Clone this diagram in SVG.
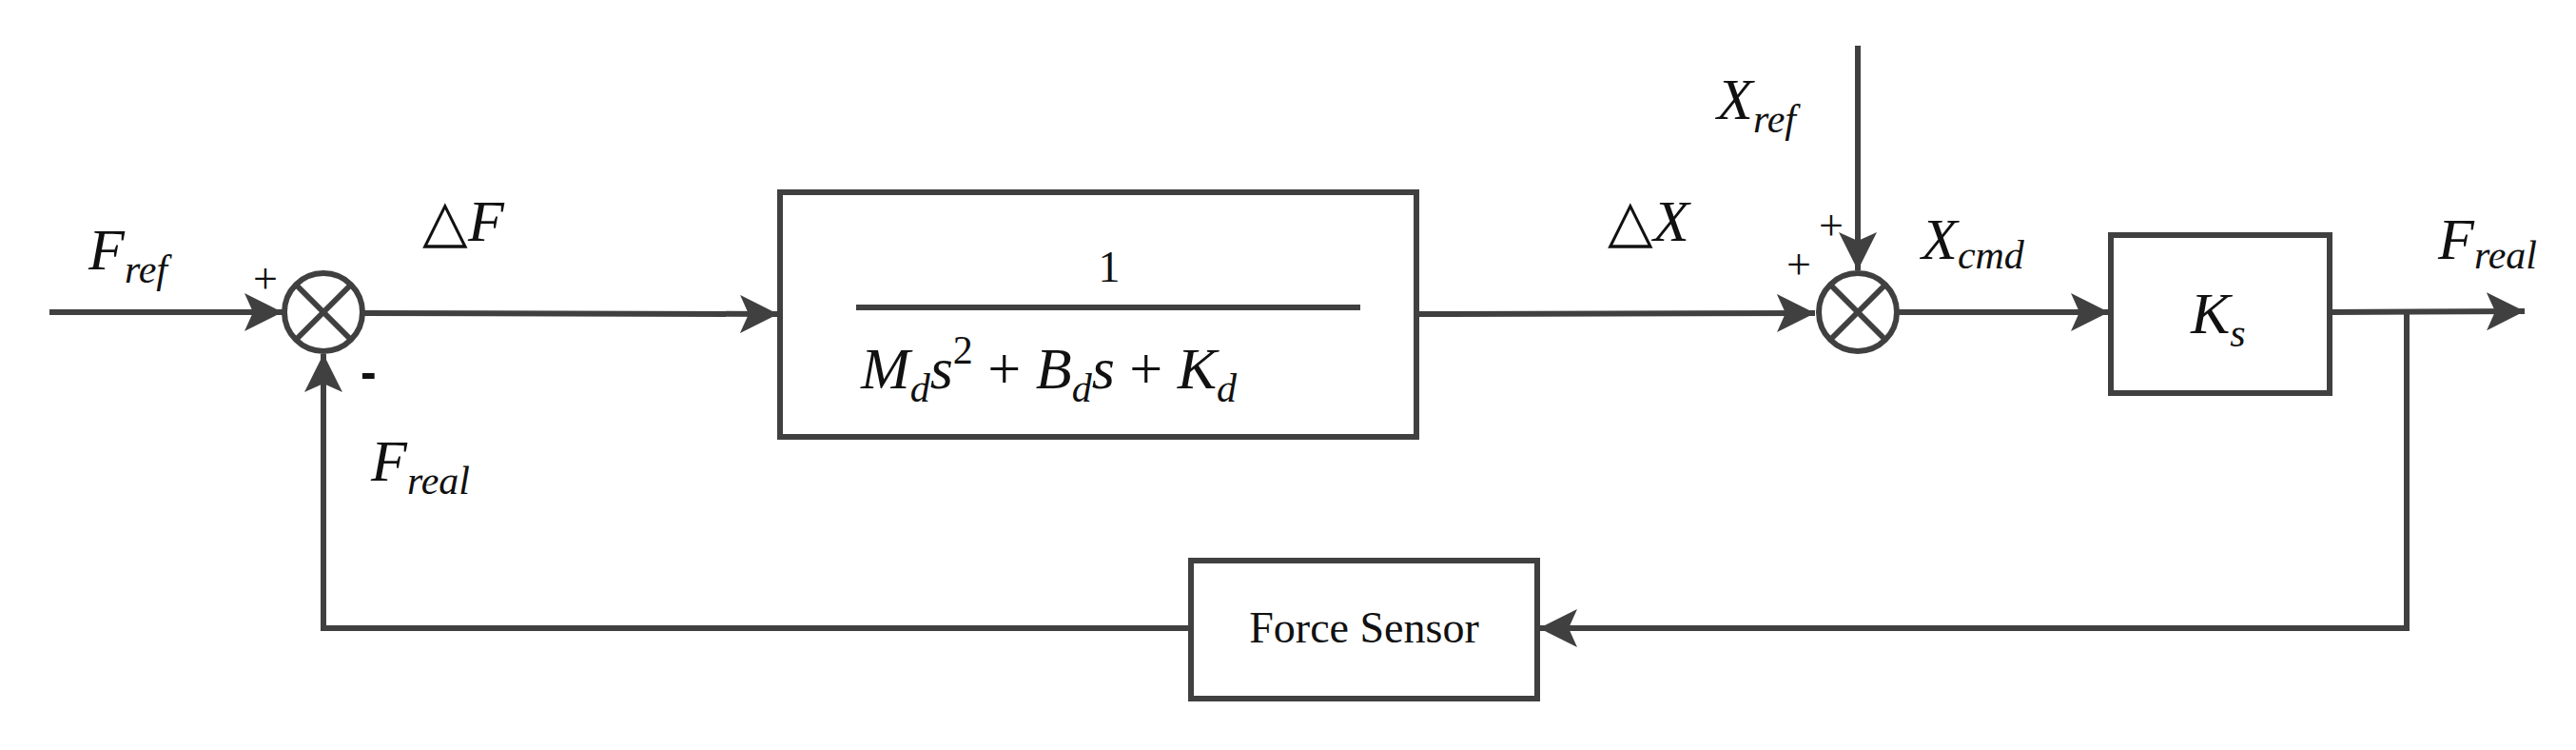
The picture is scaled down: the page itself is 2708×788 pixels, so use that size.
<svg xmlns="http://www.w3.org/2000/svg" width="2708" height="788" viewBox="0 0 2708 788">
<style>
.ln{stroke:#404040;stroke-width:6;fill:none}
.bx{stroke:#404040;stroke-width:6;fill:#fff}
.m{font-family:"Liberation Serif",serif;font-style:italic;font-size:62px;fill:#111}
.s{font-size:42px}
.n{font-family:"Liberation Serif",serif;font-size:46px;fill:#111}
</style>
<defs>
<marker id="a" markerUnits="userSpaceOnUse" markerWidth="42" markerHeight="42" refX="40" refY="20" orient="auto" viewBox="0 0 42 42">
<path d="M0,0 L40,20 L0,40 L9,20 Z" fill="#404040"/>
</marker>
</defs>
<g id="connectors">
<line class="ln" x1="52" y1="328" x2="297" y2="328" marker-end="url(#a)"/>
<line class="ln" x1="382" y1="329" x2="818" y2="330" marker-end="url(#a)"/>
<line class="ln" x1="1489" y1="330" x2="1908" y2="329" marker-end="url(#a)"/>
<line class="ln" x1="1953" y1="48" x2="1953" y2="284" marker-end="url(#a)"/>
<line class="ln" x1="1994" y1="328" x2="2217" y2="328" marker-end="url(#a)"/>
<line class="ln" x1="2449" y1="328" x2="2654" y2="327" marker-end="url(#a)"/>
<polyline class="ln" points="2530,328 2530,660 1618,660" marker-end="url(#a)"/>
<polyline class="ln" points="1252,660 340,660 340,372" marker-end="url(#a)"/>
</g>
<g id="sum1">
<circle class="bx" cx="340" cy="328" r="41"/>
<line class="ln" x1="311" y1="299" x2="369" y2="357"/>
<line class="ln" x1="369" y1="299" x2="311" y2="357"/>
</g>
<g id="sum2">
<circle class="bx" cx="1953" cy="328" r="41"/>
<line class="ln" x1="1924" y1="299" x2="1982" y2="357"/>
<line class="ln" x1="1982" y1="299" x2="1924" y2="357"/>
</g>
<g id="impedance">
<rect class="bx" x="820" y="202" width="669" height="257"/>
<text class="n" x="1166" y="296" text-anchor="middle" font-size="58">1</text>
<line class="ln" x1="900" y1="323" x2="1430" y2="323" stroke-width="3"/>
<text class="m" x="905" y="408">M<tspan class="s" dy="14">d</tspan><tspan dy="-14">s</tspan><tspan class="s" font-style="normal" dy="-26">2</tspan><tspan font-style="normal" dy="26"> + </tspan>B<tspan class="s" dy="14">d</tspan><tspan dy="-14">s</tspan><tspan font-style="normal"> + </tspan>K<tspan class="s" dy="14">d</tspan></text>
</g>
<g id="ks">
<rect class="bx" x="2219" y="247" width="230" height="166"/>
<text class="m" x="2303" y="350">K<tspan class="s" dy="14">s</tspan></text>
</g>
<g id="sensor">
<rect class="bx" x="1252" y="589" width="364" height="145"/>
<text class="n" x="1434" y="675" text-anchor="middle" font-size="40">Force Sensor</text>
</g>
<g id="labels">
<text class="m" x="93" y="283">F<tspan class="s" dy="14">ref</tspan></text>
<text class="n" x="266" y="308" font-size="44">+</text>
<text x="379" y="408" font-family="Liberation Sans,sans-serif" font-weight="bold" font-size="50" fill="#111">-</text>
<text class="m" x="444" y="253"><tspan font-style="normal">△</tspan>F</text>
<text class="m" x="390" y="505">F<tspan class="s" dy="14">real</tspan></text>
<text class="m" x="1690" y="253"><tspan font-style="normal">△</tspan>X</text>
<text class="m" x="1805" y="125">X<tspan class="s" dy="14">ref</tspan></text>
<text class="n" x="1912" y="252" font-size="44">+</text>
<text class="n" x="1878" y="293" font-size="44">+</text>
<text class="m" x="2020" y="272">X<tspan class="s" dy="10">cmd</tspan></text>
<text class="m" x="2563" y="272">F<tspan class="s" dy="10">real</tspan></text>
</g>
</svg>
